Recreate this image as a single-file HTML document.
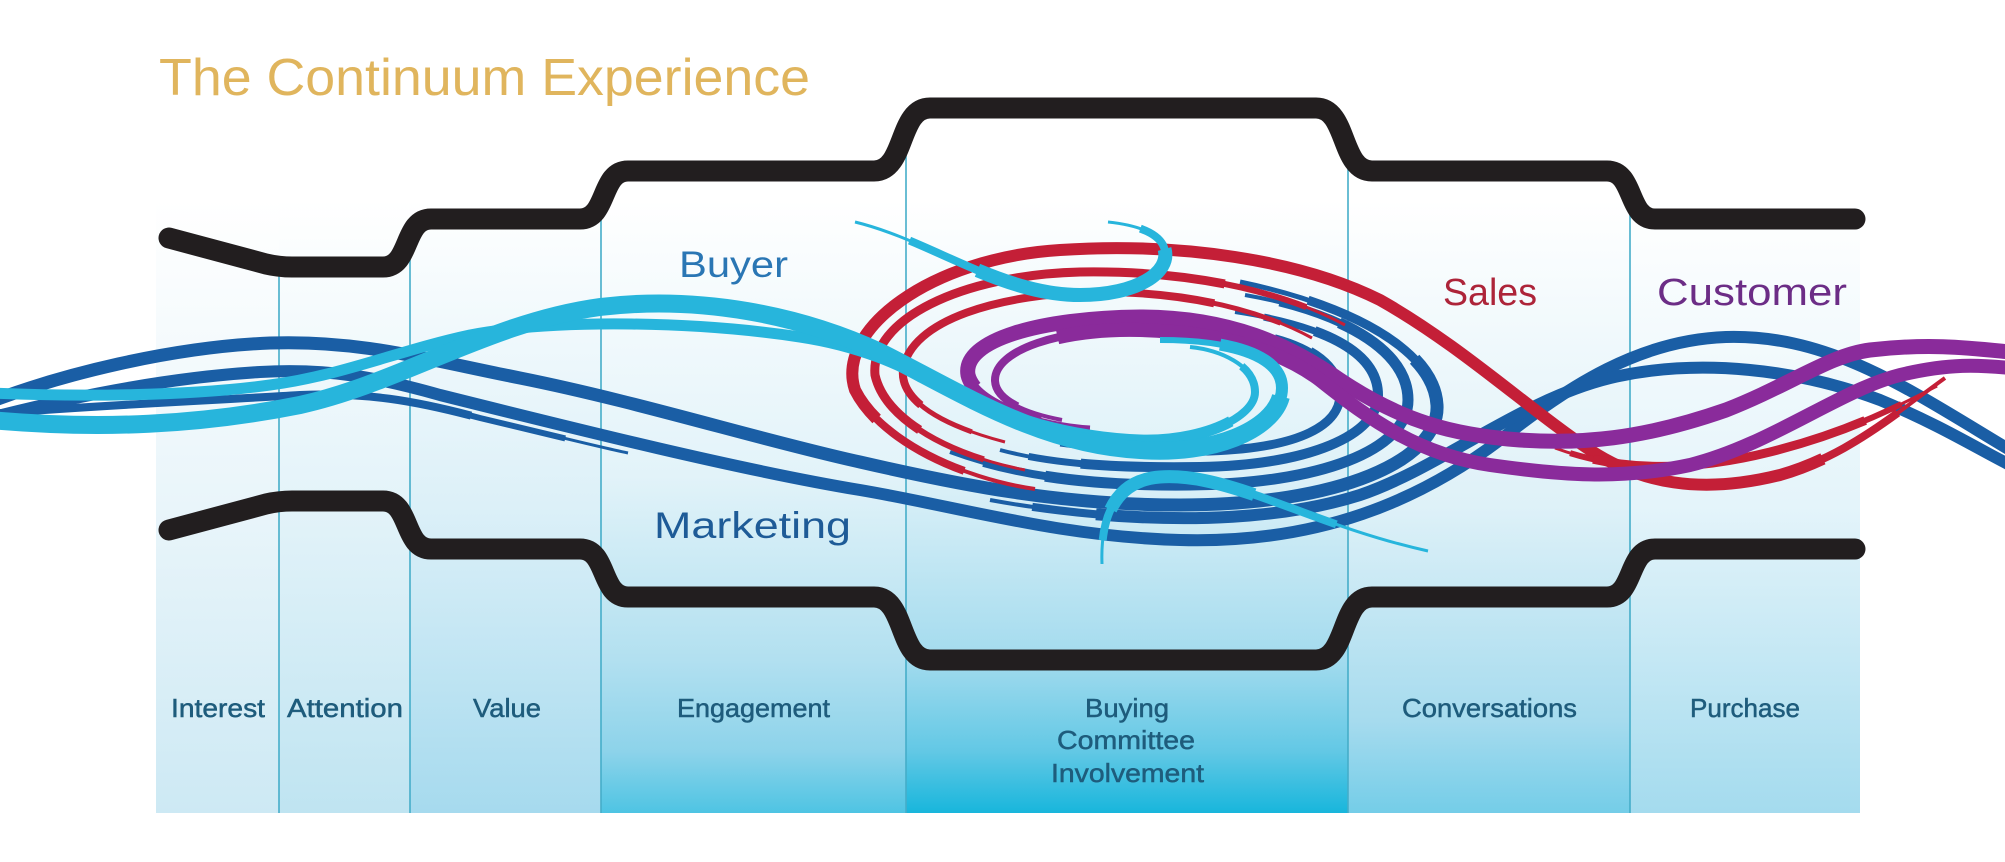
<!DOCTYPE html>
<html><head><meta charset="utf-8"><style>
html,body{margin:0;padding:0;background:#fff;}
svg{display:block;}
text{font-family:"Liberation Sans",sans-serif;}
</style></head><body>
<svg width="2005" height="862" viewBox="0 0 2005 862" xmlns="http://www.w3.org/2000/svg">
<defs>
<linearGradient id="g1" gradientUnits="userSpaceOnUse" x1="0" y1="200" x2="0" y2="813"><stop offset="0" stop-color="#ffffff"/><stop offset="0.5" stop-color="#e9f5fa"/><stop offset="1" stop-color="#cde9f4"/></linearGradient>
<linearGradient id="g2" gradientUnits="userSpaceOnUse" x1="0" y1="200" x2="0" y2="813"><stop offset="0" stop-color="#ffffff"/><stop offset="0.5" stop-color="#e3f3f9"/><stop offset="1" stop-color="#bfe4f1"/></linearGradient>
<linearGradient id="g3" gradientUnits="userSpaceOnUse" x1="0" y1="200" x2="0" y2="813"><stop offset="0" stop-color="#ffffff"/><stop offset="0.5" stop-color="#dcf0f8"/><stop offset="1" stop-color="#a6daee"/></linearGradient>
<linearGradient id="g4" gradientUnits="userSpaceOnUse" x1="0" y1="200" x2="0" y2="813"><stop offset="0" stop-color="#ffffff"/><stop offset="0.45" stop-color="#e2f3f9"/><stop offset="0.75" stop-color="#b2e0f0"/><stop offset="0.9" stop-color="#8dd3ea"/><stop offset="1" stop-color="#4ec4e3"/></linearGradient>
<linearGradient id="g5" gradientUnits="userSpaceOnUse" x1="0" y1="200" x2="0" y2="813"><stop offset="0" stop-color="#ffffff"/><stop offset="0.45" stop-color="#ddf1f8"/><stop offset="0.75" stop-color="#a3dbee"/><stop offset="0.9" stop-color="#62c8e5"/><stop offset="1" stop-color="#18b6dc"/></linearGradient>
<linearGradient id="g6" gradientUnits="userSpaceOnUse" x1="0" y1="200" x2="0" y2="813"><stop offset="0" stop-color="#ffffff"/><stop offset="0.5" stop-color="#def1f8"/><stop offset="0.85" stop-color="#a6dbee"/><stop offset="1" stop-color="#74cde8"/></linearGradient>
<linearGradient id="g7" gradientUnits="userSpaceOnUse" x1="0" y1="200" x2="0" y2="813"><stop offset="0" stop-color="#ffffff"/><stop offset="0.5" stop-color="#e4f4fa"/><stop offset="1" stop-color="#a4dbee"/></linearGradient>

<!-- ribbon paths -->
<path id="b1" pathLength="100" d="M -10 402 C 60 375, 170 347, 270 343 C 360 340, 420 358, 520 378 C 640 402, 760 440, 860 462 C 960 485, 1060 505, 1180 505 C 1340 505, 1440 460, 1437 405 C 1434 350, 1350 305, 1240 282"/>
<path id="b2" d="M -10 418 C 60 400, 160 378, 260 372 C 330 368, 380 378, 440 395 C 580 430, 740 470, 860 490 C 960 507, 1060 537, 1180 540 C 1320 544, 1420 500, 1500 440 C 1570 385, 1640 340, 1726 337 C 1830 334, 1910 390, 2010 450"/>
<path id="b3" pathLength="100" d="M -10 414 C 100 405, 220 400, 300 395 C 370 392, 420 402, 480 418 C 540 432, 590 445, 628 453"/>
<path id="b4" pathLength="100" d="M 990 500 C 1100 520, 1250 530, 1360 495 C 1440 468, 1520 400, 1610 378 C 1700 357, 1800 370, 1880 400 C 1940 425, 1980 450, 2010 465"/>
<path id="r2b" pathLength="100" d="M 950 452 C 1020 478, 1100 486, 1190 485 C 1320 484, 1408 450, 1408 400 C 1408 345, 1330 310, 1245 295"/>
<path id="r3b" pathLength="100" d="M 1000 450 C 1060 466, 1130 468, 1200 467 C 1310 465, 1378 435, 1378 395 C 1378 350, 1320 325, 1235 312"/>
<path id="r4b" pathLength="100" d="M 1060 445 C 1110 452, 1160 452, 1210 451 C 1300 448, 1342 425, 1340 392 C 1338 360, 1300 340, 1250 332"/>

<path id="R1" pathLength="100" d="M 1035 489 C 960 478, 880 440, 855 390 C 835 330, 930 258, 1060 250 C 1180 242, 1300 260, 1380 300 C 1460 345, 1530 410, 1590 450 C 1640 483, 1700 495, 1780 475 C 1850 455, 1900 410, 1945 378"/>
<path id="R2" pathLength="100" d="M 1025 470 C 950 455, 885 420, 875 375 C 870 320, 960 275, 1080 272 C 1200 270, 1290 295, 1345 325"/>
<path id="R3" pathLength="100" d="M 1005 442 C 940 425, 900 400, 903 370 C 910 320, 1000 293, 1100 292 C 1200 292, 1270 315, 1312 338"/>
<path id="R4" pathLength="100" d="M 1555 448 C 1620 472, 1690 472, 1770 452 C 1850 432, 1900 405, 1937 386"/>

<path id="P1" pathLength="100" d="M 1090 428 C 1040 425, 975 405, 968 375 C 962 340, 1040 318, 1140 317 C 1230 317, 1290 345, 1340 380 C 1400 420, 1450 435, 1520 440 C 1580 444, 1640 440, 1726 410 C 1790 385, 1830 355, 1870 350 C 1930 343, 1970 348, 2010 352"/>
<path id="P2" pathLength="100" d="M 1062 420 C 1020 412, 995 398, 995 380 C 995 350, 1060 328, 1140 330 C 1220 332, 1280 350, 1320 380 C 1370 420, 1420 455, 1490 465 C 1560 475, 1620 480, 1690 465 C 1770 445, 1840 390, 1900 375 C 1950 363, 1980 365, 2010 368"/>

<path id="CA" pathLength="100" d="M -10 393 C 80 397, 190 396, 270 385 C 340 376, 400 350, 470 335 C 560 318, 700 322, 800 337 C 860 346, 900 365, 940 385 C 1010 420, 1070 437, 1140 440 C 1200 442, 1255 418, 1255 392 C 1255 365, 1220 350, 1190 347"/>
<path id="CB" pathLength="100" d="M -10 420 C 100 430, 200 425, 300 405 C 400 383, 490 322, 600 307 C 700 295, 800 315, 880 352 C 960 392, 1040 445, 1140 450 C 1220 456, 1282 425, 1282 388 C 1282 355, 1230 340, 1160 340"/>
<path id="HT" pathLength="100" d="M 855 222 C 930 240, 1000 295, 1080 295 C 1140 295, 1175 270, 1163 245 C 1156 232, 1136 225, 1108 222"/>
<path id="HB" pathLength="100" d="M 1102 564 C 1100 510, 1120 480, 1160 477 C 1230 472, 1310 525, 1428 551"/>
</defs>

<!-- panel -->
<rect x="156" y="200" width="123" height="613" fill="url(#g1)"/>
<rect x="279" y="200" width="131" height="613" fill="url(#g2)"/>
<rect x="410" y="200" width="191" height="613" fill="url(#g3)"/>
<rect x="601" y="200" width="305" height="613" fill="url(#g4)"/>
<rect x="906" y="200" width="442" height="613" fill="url(#g5)"/>
<rect x="1348" y="200" width="282" height="613" fill="url(#g6)"/>
<rect x="1630" y="200" width="230" height="613" fill="url(#g7)"/>

<!-- dividers -->
<g stroke="#45adc9" stroke-width="1.6">
<line x1="279" y1="267" x2="279" y2="813"/>
<line x1="410" y1="240" x2="410" y2="813"/>
<line x1="601" y1="195" x2="601" y2="813"/>
<line x1="906" y1="140" x2="906" y2="813"/>
<line x1="1348" y1="140" x2="1348" y2="813"/>
<line x1="1630" y1="195" x2="1630" y2="813"/>
</g>

<!-- black stair lines -->
<g fill="none" stroke="#221e1f" stroke-width="21" stroke-linecap="round" stroke-linejoin="round">
<path d="M 169 238 L 266 264 Q 279 267 292 267 L 383 267 C 411 267 403 219 431 219 L 580 219 C 608 219 600 171 628 171 L 874 171 C 906 171 898 108 930 108 L 1316 108 C 1348 108 1340 171 1372 171 L 1607 171 C 1635 171 1627 219 1655 219 L 1855 219"/>
<path d="M 169 530 L 266 504 Q 279 501 292 501 L 383 501 C 411 501 403 549 431 549 L 580 549 C 608 549 600 597 628 597 L 874 597 C 906 597 898 660 930 660 L 1316 660 C 1348 660 1340 597 1372 597 L 1607 597 C 1635 597 1627 549 1655 549 L 1855 549"/>
</g>

<!-- dark blue marketing ribbons -->
<g fill="none" stroke="#1a5ea5" stroke-linecap="butt">
<use href="#b2" stroke-width="12"/>
<use href="#b1" stroke-width="5"/>
<use href="#b1" stroke-width="9" stroke-dasharray="96 100"/>
<use href="#b1" stroke-width="13" stroke-dasharray="89 100"/>
<use href="#b3" stroke-width="3"/>
<use href="#b3" stroke-width="6" stroke-dasharray="90 100"/>
<use href="#b3" stroke-width="8" stroke-dasharray="75 100"/>
<use href="#b4" stroke-width="4"/>
<use href="#b4" stroke-width="8" stroke-dasharray="0 4 96"/>
<use href="#b4" stroke-width="12" stroke-dasharray="0 10 90"/>
<use href="#r2b" stroke-width="4"/>
<use href="#r2b" stroke-width="8" stroke-dasharray="0 5 90 100"/>
<use href="#r2b" stroke-width="11" stroke-dasharray="0 14 72 100"/>
<use href="#r3b" stroke-width="4"/>
<use href="#r3b" stroke-width="7" stroke-dasharray="0 5 90 100"/>
<use href="#r3b" stroke-width="10" stroke-dasharray="0 14 72 100"/>
<use href="#r4b" stroke-width="3"/>
<use href="#r4b" stroke-width="6" stroke-dasharray="0 6 88 100"/>
<use href="#r4b" stroke-width="9" stroke-dasharray="0 15 70 100"/>
</g>

<!-- red sales ribbons -->
<g fill="none" stroke="#c41f37" stroke-linecap="butt">
<use href="#R1" stroke-width="4"/>
<use href="#R1" stroke-width="8" stroke-dasharray="0 5 91 100"/>
<use href="#R1" stroke-width="12" stroke-dasharray="0 12 78 100"/>
<use href="#R2" stroke-width="3"/>
<use href="#R2" stroke-width="6" stroke-dasharray="0 6 88 100"/>
<use href="#R2" stroke-width="9" stroke-dasharray="0 16 66 100"/>
<use href="#R3" stroke-width="3"/>
<use href="#R3" stroke-width="5" stroke-dasharray="0 6 88 100"/>
<use href="#R3" stroke-width="8" stroke-dasharray="0 16 66 100"/>
<use href="#R4" stroke-width="3"/>
<use href="#R4" stroke-width="6" stroke-dasharray="0 4 86 100"/>
<use href="#R4" stroke-width="9" stroke-dasharray="0 10 70 100"/>
</g>

<!-- purple customer ribbons -->
<g fill="none" stroke="#8a2b9b" stroke-linecap="butt">
<use href="#P1" stroke-width="5"/>
<use href="#P1" stroke-width="10" stroke-dasharray="0 4 96"/>
<use href="#P1" stroke-width="15" stroke-dasharray="0 10 90"/>
<use href="#P2" stroke-width="4"/>
<use href="#P2" stroke-width="8" stroke-dasharray="0 4 96"/>
<use href="#P2" stroke-width="14" stroke-dasharray="0 14 86"/>
</g>

<!-- cyan buyer ribbons -->
<g fill="none" stroke="#27b5dc" stroke-linecap="butt">
<use href="#CA" stroke-width="4"/>
<use href="#CA" stroke-width="8" stroke-dasharray="96 100"/>
<use href="#CA" stroke-width="11" stroke-dasharray="91 100"/>
<use href="#CB" stroke-width="6"/>
<use href="#CB" stroke-width="12" stroke-dasharray="96 100"/>
<use href="#CB" stroke-width="18" stroke-dasharray="90 100"/>
<use href="#HT" stroke-width="3"/>
<use href="#HT" stroke-width="8" stroke-dasharray="0 14 78 100"/>
<use href="#HT" stroke-width="14" stroke-dasharray="0 32 52 100"/>
<use href="#HB" stroke-width="3"/>
<use href="#HB" stroke-width="8" stroke-dasharray="0 6 70 100"/>
<use href="#HB" stroke-width="13" stroke-dasharray="0 14 40 100"/>
</g>

<!-- title -->
<text x="159" y="95" font-size="52" fill="#e0b55d" textLength="651" lengthAdjust="spacingAndGlyphs">The Continuum Experience</text>

<!-- big labels -->
<text x="679" y="277" font-size="37" fill="#2a76b4" textLength="109" lengthAdjust="spacingAndGlyphs">Buyer</text>
<text x="654" y="538" font-size="37" fill="#1e5b97" textLength="197" lengthAdjust="spacingAndGlyphs">Marketing</text>
<text x="1443" y="305" font-size="38" fill="#ad2439" textLength="94" lengthAdjust="spacingAndGlyphs">Sales</text>
<text x="1657" y="305" font-size="38" fill="#6c2d86" textLength="190" lengthAdjust="spacingAndGlyphs">Customer</text>

<!-- column labels -->
<g font-size="26" fill="#1e5c7c" stroke="#1e5c7c" stroke-width="0.5">
<text x="171" y="717" textLength="94" lengthAdjust="spacingAndGlyphs">Interest</text>
<text x="287" y="717" textLength="116" lengthAdjust="spacingAndGlyphs">Attention</text>
<text x="473" y="717" textLength="68" lengthAdjust="spacingAndGlyphs">Value</text>
<text x="677" y="717" textLength="153" lengthAdjust="spacingAndGlyphs">Engagement</text>
<text x="1085" y="717" textLength="84" lengthAdjust="spacingAndGlyphs">Buying</text>
<text x="1057" y="749" textLength="138" lengthAdjust="spacingAndGlyphs">Committee</text>
<text x="1051" y="782" textLength="153" lengthAdjust="spacingAndGlyphs">Involvement</text>
<text x="1402" y="717" textLength="175" lengthAdjust="spacingAndGlyphs">Conversations</text>
<text x="1690" y="717" textLength="110" lengthAdjust="spacingAndGlyphs">Purchase</text>
</g>
</svg>
</body></html>
